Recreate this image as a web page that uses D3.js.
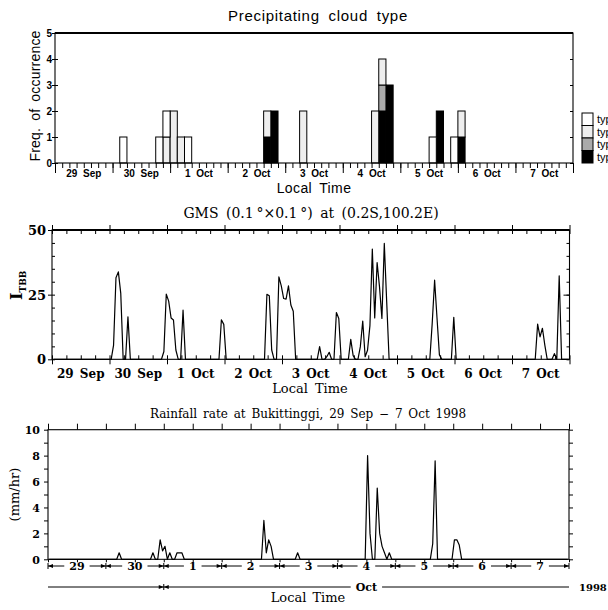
<!DOCTYPE html>
<html>
<head>
<meta charset="utf-8">
<script src="https://cdn.jsdelivr.net/npm/d3@7"></script>
<style>
  body { margin: 0; background: #fff; }
  .sans { font-family: "Liberation Sans", Arial, sans-serif; }
  .serif { font-family: "DejaVu Serif", serif; }
  .axis path.domain { display: none; }
  .axis line { stroke: #000; }
</style>
</head>
<body>
<svg id="chart" width="608" height="610"></svg>
<script>
// ---- data ----
const dayLabels = ["29 Sep", "30 Sep", "1 Oct", "2 Oct", "3 Oct", "4 Oct", "5 Oct", "6 Oct", "7 Oct"];
const dayNumbers = ["29", "30", "1", "2", "3", "4", "5", "6", "7"];

// precipitating cloud type, 3-hourly bins, start hour (LT) counted from 29 Sep 00:00
const binHours = [27, 42, 45, 48, 51, 54, 87, 90, 102, 132, 135, 138, 156, 159, 165, 168];
const type1 = [1, 1, 1, 0, 0, 1, 0, 0, 0, 0, 0, 0, 1, 0, 1, 0];
const type2 = [0, 0, 1, 2, 1, 0, 1, 0, 2, 2, 1, 0, 0, 0, 0, 1];
const type3 = [0, 0, 0, 0, 0, 0, 0, 0, 0, 0, 1, 0, 0, 0, 0, 0];
const type4 = [0, 0, 0, 0, 0, 0, 1, 2, 0, 0, 2, 3, 0, 2, 0, 1];
const typeNames = ["type 1", "type 2", "type 3", "type 4"];

// GMS I_TBB, hourly from 29 Sep 00:42 LT
const ibbMinute = 42;
const ibb = [
  0, 0, 0, 0, 0, 0, 0, 0, 0, 0, 0, 0, 0, 0, 0, 0, 0, 0, 0, 0, 0, 0, 0, 0,
  0, 5.5, 31.5, 33.8, 25.5, 0, 0, 16.4, 0, 0, 0, 0, 0, 0, 0, 0, 0, 0, 0, 0, 0, 0, 3, 25.2,
  22.5, 16, 15.2, 3.6, 0, 0, 19, 0, 0, 0, 0, 0, 0, 0, 0, 0, 0, 0, 0, 0, 0, 0, 15.3, 13.5,
  0, 0, 0, 0, 0, 0, 0, 0, 0, 0, 0, 0, 0, 0, 0, 0, 0, 25.1, 24.6, 3.6, 0, 0, 31.9, 28.4,
  23.5, 23.3, 28.4, 21, 18.6, 0, 0, 0, 0, 0, 0, 0, 0, 0, 0, 4.9, 0, 0, 1, 2.7, 0, 0, 18.1, 15.8,
  0, 0, 0, 0, 7.7, 1.4, 0, 0, 4.9, 14.8, 1, 3.5, 13, 42.6, 16, 37.4, 28, 15.8, 44.8, 22.2, 0, 0, 0, 0,
  0, 0, 0, 0, 0, 0, 0, 0, 0, 0, 0, 0, 0, 0, 14, 30.6, 16, 1.7, 0, 0, 0, 0, 0, 16.2,
  0, 0, 0, 0, 0, 0, 0, 0, 0, 0, 0, 0, 0, 0, 0, 0, 0, 0, 0, 0, 0, 0, 0, 0,
  0, 0, 0, 0, 0, 0, 0, 0, 0, 0, 13.6, 8.7, 12, 5.5, 0, 0, 0, 2.2, 0, 32.3, 0, 0, 0, 0
];

// hourly rainfall rate (mm/hr) at Bukittinggi, plotted at mid-hour
const rainfall = [
  0, 0, 0, 0, 0, 0, 0, 0, 0, 0, 0, 0, 0, 0, 0, 0, 0, 0, 0, 0, 0, 0, 0, 0,
  0, 0, 0, 0, 0, 0.5, 0, 0, 0, 0, 0, 0, 0, 0, 0, 0, 0, 0, 0, 0.5, 0, 0, 1.5, 0.65,
  1, 0, 0.5, 0, 0, 0.5, 0.5, 0.5, 0, 0, 0, 0, 0, 0, 0, 0, 0, 0, 0, 0, 0, 0, 0, 0,
  0, 0, 0, 0, 0, 0, 0, 0, 0, 0, 0, 0, 0, 0, 0, 0, 0, 3, 0.5, 1.5, 1, 0, 0, 0,
  0, 0, 0, 0, 0, 0, 0, 0.5, 0, 0, 0, 0, 0, 0, 0, 0, 0, 0, 0, 0, 0, 0, 0, 0,
  0, 0, 0, 0, 0, 0, 0, 0, 0, 0, 0, 0, 8, 2, 0, 0, 5.5, 2, 1, 0.5, 0, 0.5, 0, 0,
  0, 0, 0, 0, 0, 0, 0, 0, 0, 0, 0, 0, 0, 0, 0, 1.2, 7.6, 0, 0, 0, 0, 0, 0, 0,
  1.5, 1.5, 1.1, 0, 0, 0, 0, 0, 0, 0, 0, 0, 0, 0, 0, 0, 0, 0, 0, 0, 0, 0, 0, 0,
  0, 0, 0, 0, 0, 0, 0, 0, 0, 0, 0, 0, 0, 0, 0, 0, 0, 0, 0, 0, 0, 0, 0, 0
];

const svg = d3.select("#chart");
const dayHours = d3.range(0, 217, 24);

function frame(g, p) {
    g.append("rect")
        .attr("x", p.left).attr("y", p.top)
        .attr("width", p.right - p.left).attr("height", p.bottom - p.top)
        .attr("fill", "none").attr("stroke", "#000").attr("stroke-width", 1.1);
    g.append("line")
        .attr("x1", p.left).attr("x2", p.right).attr("y1", p.top).attr("y2", p.top)
        .attr("stroke", "#000").attr("stroke-width", 2);
}

function tickAxis(g, axis, x, y) {
    g.append("g").attr("class", "axis")
        .attr("transform", `translate(${x},${y})`)
        .call(axis.tickFormat(""));
}

// ================= panel 1 : precipitating cloud type =================
const p1 = { left: 55, right: 573, top: 33, bottom: 163 };
const x1 = d3.scaleLinear().domain([0, 216]).range([p1.left, p1.right]);
const y1 = d3.scaleLinear().domain([0, 5]).range([p1.bottom, p1.top]);
const g1 = svg.append("g").attr("class", "sans");

const rows = binHours.map((h, i) => ({ hour: h, type1: type1[i], type2: type2[i], type3: type3[i], type4: type4[i] }));
const keys = ["type4", "type3", "type2", "type1"];
const fills = { type1: "#ffffff", type2: "#eeeeee", type3: "#aaaaaa", type4: "#000000" };
const stacked = d3.stack().keys(keys)(rows);

stacked.forEach(layer => {
    g1.append("g").selectAll("rect")
        .data(layer.filter(d => d[1] > d[0]))
        .join("rect")
        .attr("x", d => x1(d.data.hour))
        .attr("width", d => x1(d.data.hour + 3) - x1(d.data.hour))
        .attr("y", d => y1(d[1]))
        .attr("height", d => y1(d[0]) - y1(d[1]))
        .attr("fill", fills[layer.key])
        .attr("stroke", "#000").attr("stroke-width", 1);
});

frame(g1, p1);
tickAxis(g1, d3.axisBottom(x1).tickValues(d3.range(0, 217, 3)).tickSize(5), 0, p1.bottom);
tickAxis(g1, d3.axisBottom(x1).tickValues(dayHours).tickSize(10), 0, p1.bottom);
tickAxis(g1, d3.axisLeft(y1).tickValues(d3.range(0, 6)).tickSize(3), p1.left, 0);
tickAxis(g1, d3.axisRight(y1).tickValues(d3.range(0, 6)).tickSize(3), p1.left, 0);
tickAxis(g1, d3.axisLeft(y1).tickValues(d3.range(0, 6)).tickSize(3), p1.right, 0);

g1.selectAll(".ylab").data(d3.range(0, 6)).join("text")
    .attr("x", p1.left - 3).attr("y", d => y1(d) + 3.5)
    .attr("text-anchor", "end").attr("font-size", 10).attr("font-weight", "bold")
    .text(d => d);

g1.selectAll(".daylab").data(dayLabels).join("text")
    .attr("x", (d, i) => x1(i * 24 + 12)).attr("y", 177)
    .attr("text-anchor", "middle").attr("font-size", 10).attr("font-weight", "bold")
    .attr("word-spacing", 3)
    .text(d => d);

g1.append("text").attr("x", 318).attr("y", 21).attr("text-anchor", "middle")
    .attr("font-size", 15).attr("letter-spacing", 0.7).attr("word-spacing", 4)
    .text("Precipitating cloud type");
g1.append("text").attr("x", 314).attr("y", 193).attr("text-anchor", "middle")
    .attr("font-size", 14).attr("letter-spacing", 0.4).attr("word-spacing", 3)
    .text("Local Time");
g1.append("text").attr("transform", "translate(40,96) rotate(-90)")
    .attr("text-anchor", "middle").attr("font-size", 14).attr("letter-spacing", 0.2).attr("word-spacing", 3)
    .text("Freq. of occurrence");

// legend
const legendY = d3.scaleBand().domain(["type1", "type2", "type3", "type4"]).range([113, 163]);
const legend = g1.append("g");
legend.selectAll("rect").data(legendY.domain()).join("rect")
    .attr("x", 582).attr("y", d => legendY(d))
    .attr("width", 11).attr("height", legendY.bandwidth())
    .attr("fill", d => fills[d]).attr("stroke", "#000").attr("stroke-width", 1);
legend.selectAll("text").data(typeNames).join("text")
    .attr("x", 597).attr("y", (d, i) => legendY.domain().map(legendY)[i] + 10)
    .attr("font-size", 11)
    .text(d => d);

// ================= panel 2 : GMS I_TBB =================
const p2 = { left: 52, right: 569.5, top: 230, bottom: 359.3 };
const x2 = d3.scaleLinear().domain([0, 216]).range([p2.left, p2.right]);
const y2 = d3.scaleLinear().domain([0, 50]).range([p2.bottom, p2.top]);
const g2 = svg.append("g").attr("class", "serif");

const ibbLine = d3.line()
    .x((d, i) => x2(i + ibbMinute / 60))
    .y(d => y2(d));
g2.append("path").datum(ibb)
    .attr("d", ibbLine)
    .attr("fill", "none").attr("stroke", "#000").attr("stroke-width", 1.2)
    .attr("stroke-linejoin", "round");

frame(g2, p2);
tickAxis(g2, d3.axisTop(x2).tickValues(d3.range(0, 217, 6)).tickSize(4), 0, p2.bottom);
tickAxis(g2, d3.axisBottom(x2).tickValues(d3.range(0, 217, 6)).tickSize(4), 0, p2.top);
tickAxis(g2, d3.axisBottom(x2).tickValues(dayHours).tickSize(5), 0, p2.bottom);
tickAxis(g2, d3.axisTop(x2).tickValues(dayHours).tickSize(5), 0, p2.top);
tickAxis(g2, d3.axisRight(y2).tickValues(d3.range(0, 51, 5)).tickSize(3), p2.left, 0);
tickAxis(g2, d3.axisLeft(y2).tickValues([0, 25, 50]).tickSize(4), p2.left, 0);
tickAxis(g2, d3.axisLeft(y2).tickValues(d3.range(0, 51, 5)).tickSize(3), p2.right, 0);
tickAxis(g2, d3.axisLeft(y2).tickValues([25]).tickSize(6), p2.right, 0);

g2.selectAll(".ylab").data([0, 25, 50]).join("text")
    .attr("x", p2.left - 6).attr("y", d => y2(d) + 5)
    .attr("text-anchor", "end").attr("font-size", 13).attr("font-weight", "bold")
    .text(d => d);

g2.selectAll(".daylab").data(dayLabels).join("text")
    .attr("x", (d, i) => x2(i * 24 + 12)).attr("y", 378)
    .attr("text-anchor", "middle").attr("font-size", 12).attr("font-weight", "bold")
    .attr("word-spacing", 2)
    .text(d => d);

g2.append("text").attr("x", 311).attr("y", 218).attr("text-anchor", "middle")
    .attr("font-size", 14).attr("word-spacing", 3)
    .text("GMS (0.1\u2009°×0.1\u2009°) at (0.2S,100.2E)");
g2.append("text").attr("x", 310).attr("y", 393).attr("text-anchor", "middle")
    .attr("font-size", 13).attr("word-spacing", 3)
    .text("Local Time");
const ibbTitle = g2.append("text").attr("transform", "translate(22,300) rotate(-90)")
    .attr("text-anchor", "start").attr("font-weight", "bold");
ibbTitle.append("tspan").attr("font-size", 16).text("I");
ibbTitle.append("tspan").attr("font-size", 9).attr("dy", 4).text("TBB");

// ================= panel 3 : rainfall =================
const p3 = { left: 48, right: 569, top: 429.7, bottom: 559.3 };
const x3 = d3.scaleLinear().domain([0, 216]).range([p3.left, p3.right]);
const y3 = d3.scaleLinear().domain([0, 10]).range([p3.bottom, p3.top]);
const g3 = svg.append("g").attr("class", "serif");

const rainLine = d3.line()
    .x((d, i) => x3(i + 0.5))
    .y(d => y3(d));
g3.append("path").datum(rainfall)
    .attr("d", rainLine)
    .attr("fill", "none").attr("stroke", "#000").attr("stroke-width", 1.2)
    .attr("stroke-linejoin", "round");

g3.append("rect")
    .attr("x", p3.left).attr("y", p3.top)
    .attr("width", p3.right - p3.left).attr("height", p3.bottom - p3.top)
    .attr("fill", "none").attr("stroke", "#000").attr("stroke-width", 1.1);
tickAxis(g3, d3.axisTop(x3).tickValues(d3.range(0, 217, 12)).tickSize(6), 0, p3.top);
tickAxis(g3, d3.axisBottom(x3).tickValues(d3.range(0, 217, 12)).tickSize(3), 0, p3.bottom);
tickAxis(g3, d3.axisLeft(y3).tickValues(d3.range(0, 11)).tickSize(4), p3.left, 0);
tickAxis(g3, d3.axisRight(y3).tickValues(d3.range(0, 11)).tickSize(4), p3.right, 0);

g3.selectAll(".ylab").data(d3.range(0, 11, 2)).join("text")
    .attr("x", p3.left - 8).attr("y", d => y3(d) + 4.5)
    .attr("text-anchor", "end").attr("font-size", 11).attr("font-weight", "bold")
    .text(d => d);

// day / month rows under the axis: a labelled span between two hours
function marker(g, y, h, left, right) {
    const bx = x3(h);
    g.append("line").attr("x1", bx).attr("x2", bx).attr("y1", y - 3).attr("y2", y + 3)
        .attr("stroke", "#000").attr("stroke-width", 1);
    if (left) g.append("path").attr("d", `M${bx},${y}L${bx - 5},${y - 2}L${bx - 5},${y + 2}Z`).attr("fill", "#000");
    if (right) g.append("path").attr("d", `M${bx},${y}L${bx + 5},${y - 2}L${bx + 5},${y + 2}Z`).attr("fill", "#000");
}
function span(g, y, h0, h1, label) {
    const a = x3(h0), b = x3(h1);
    if (!label) {
        g.append("line").attr("x1", a).attr("x2", b).attr("y1", y).attr("y2", y).attr("stroke", "#000");
        return;
    }
    const t = g.append("text").attr("x", (a + b) / 2).attr("y", y + 4)
        .attr("text-anchor", "middle").attr("font-size", 11).attr("font-weight", "bold")
        .text(label);
    const half = t.node().getComputedTextLength() / 2 + 5;
    g.append("line").attr("x1", a).attr("x2", (a + b) / 2 - half).attr("y1", y).attr("y2", y).attr("stroke", "#000");
    g.append("line").attr("x1", (a + b) / 2 + half).attr("x2", b).attr("y1", y).attr("y2", y).attr("stroke", "#000");
}
const row1 = 566, row2 = 587;
dayNumbers.forEach((d, i) => span(g3, row1, dayHours[i], dayHours[i + 1], d));
dayHours.forEach((h, i) => marker(g3, row1, h, i > 0, i < dayHours.length - 1));

span(g3, row2, 0, 48, null);
span(g3, row2, 48, 216, "Oct");
marker(g3, row2, 48, true, true);
g3.append("text").attr("x", 579).attr("y", row2 + 4)
    .attr("font-size", 10).attr("font-weight", "bold")
    .text("1998");

g3.append("text").attr("x", 308).attr("y", 418).attr("text-anchor", "middle")
    .attr("font-size", 12).attr("word-spacing", 2)
    .text("Rainfall rate at Bukittinggi, 29 Sep \u2212 7 Oct 1998");
g3.append("text").attr("x", 308).attr("y", 602).attr("text-anchor", "middle")
    .attr("font-size", 13).attr("word-spacing", 2)
    .text("Local Time");
g3.append("text").attr("transform", `translate(19,${(p3.top + p3.bottom) / 2}) rotate(-90)`)
    .attr("text-anchor", "middle").attr("font-size", 13)
    .text("(mm/hr)");
</script>
</body>
</html>
